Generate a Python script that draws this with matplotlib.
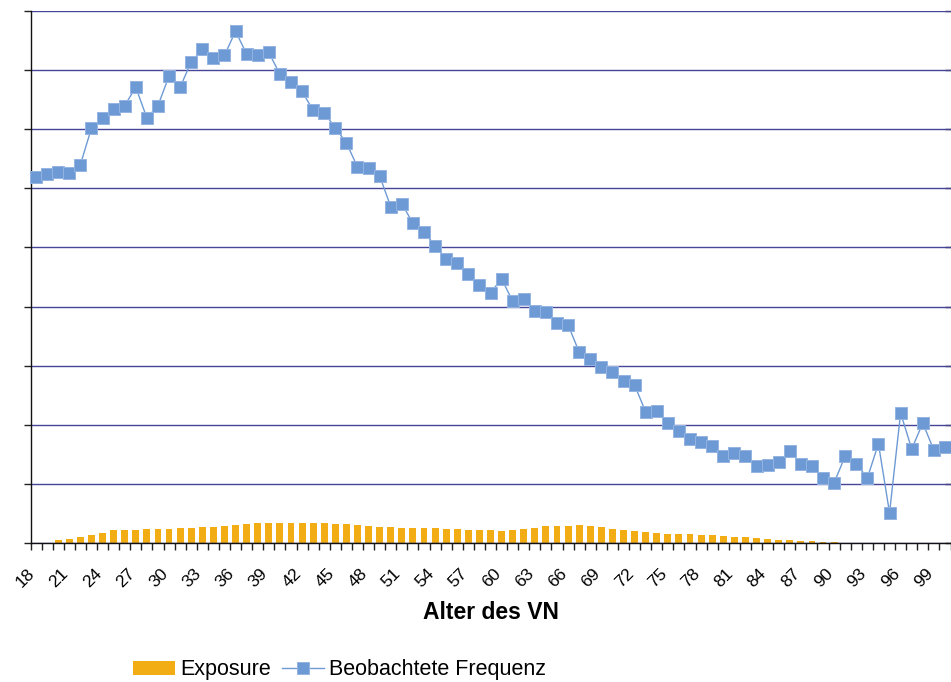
import matplotlib
matplotlib.use("Agg")
import matplotlib.pyplot as plt
from matplotlib.patches import Patch
from matplotlib.lines import Line2D

plt.rcParams['font.family'] = ['Liberation Sans', 'DejaVu Sans']

# ---- data ----
ages = list(range(18, 101))

frequency = [
    6.19, 6.24, 6.27, 6.26, 6.40, 7.02, 7.19, 7.35, 7.40, 7.71,
    7.19, 7.40, 7.90, 7.71, 8.14, 8.35, 8.21, 8.25, 8.66, 8.27,
    8.26, 8.30, 7.93, 7.80, 7.64, 7.32, 7.28, 7.02, 6.77, 6.36,
    6.35, 6.21, 5.69, 5.74, 5.41, 5.26, 5.03, 4.81, 4.74, 4.55,
    4.37, 4.23, 4.47, 4.09, 4.13, 3.93, 3.91, 3.72, 3.69, 3.23,
    3.11, 2.98, 2.89, 2.74, 2.67, 2.22, 2.23, 2.03, 1.90, 1.76,
    1.71, 1.64, 1.47, 1.52, 1.47, 1.30, 1.32, 1.37, 1.56, 1.34,
    1.30, 1.10, 1.02, 1.47, 1.34, 1.10, 1.68, 0.51, 2.20, 1.59,
    2.03, 1.57, 1.62,
]

exposure = [
    0, 0, 27, 43, 63, 83, 103, 127, 133, 133,
    143, 143, 143, 153, 153, 163, 163, 173, 183, 193,
    203, 203, 203, 203, 203, 203, 203, 193, 193, 183,
    173, 163, 163, 153, 153, 153, 153, 143, 143, 133,
    133, 133, 123, 133, 143, 153, 173, 173, 173, 183,
    173, 163, 143, 133, 123, 113, 103, 93, 93, 93,
    83, 83, 73, 63, 63, 53, 43, 33, 33, 23,
    23, 13, 13, 0, 0, 0, 0, 0, 0, 0,
    0, 0, 0,
]

label_ages = list(range(18, 101, 3))
tick_labels = [str(a) for a in label_ages]

series_names = ["Exposure", "Beobachtete Frequenz"]

# ---- styling ----
bar_color = '#F2AC14'
line_color = '#6D9AD5'
marker_edge = '#94B4E2'
grid_color = '#45459A'

W, H = 951, 682
fig = plt.figure(figsize=(W / 100, H / 100), dpi=100)
ax = fig.add_axes([30.5 / W, (H - 543) / H, 920 / W, 532 / H])
axb = ax.twinx()

# exposure bars (secondary scale)
axb.bar(ages, exposure, width=0.62, color=bar_color, zorder=2)
axb.set_ylim(0, 5320)
axb.set_yticks([i * 591.1 for i in range(10)])
axb.set_yticklabels([])
axb.tick_params(axis='y', direction='inout', length=8, width=1, color='#222222')
for s in axb.spines.values():
    s.set_visible(False)

# frequency line (primary scale)
ax.set_zorder(axb.get_zorder() + 1)
ax.patch.set_visible(False)
ax.plot(ages, frequency, color=line_color, lw=1.0, marker='s', markersize=9.2,
        markerfacecolor=line_color, markeredgecolor=marker_edge, markeredgewidth=0.7,
        zorder=3, clip_on=False)
ax.set_ylim(0, 9)
ax.set_yticks(range(10))
ax.set_yticklabels([])
ax.yaxis.grid(True, color=grid_color, lw=1.0)
ax.set_axisbelow(True)
ax.tick_params(axis='y', direction='out', length=5, width=1, color='#222222')

ax.set_xlim(17.5, 100.5)
ax.set_xticks([a - 0.5 for a in ages] + [100.5])
ax.set_xticklabels([])
ax.tick_params(axis='x', which='major', direction='out', length=5, width=1, color='#222222')
ax.set_xticks([a - 0.31 for a in label_ages], labels=tick_labels, minor=True)
ax.tick_params(axis='x', which='minor', length=0, pad=20, labelsize=12.5)
for lab in ax.get_xticklabels(minor=True):
    lab.set_rotation(45)
    lab.set_ha('right')
    lab.set_va('center')
    lab.set_rotation_mode('anchor')

for side in ['top', 'right']:
    ax.spines[side].set_visible(False)
ax.spines['left'].set_color('#111111')
ax.spines['bottom'].set_color('#111111')
ax.spines['left'].set_linewidth(1.0)
ax.spines['bottom'].set_linewidth(1.0)

fig.text(490.5 / W, 1 - 619 / H, "Alter des VN", ha='center', va='baseline',
         fontsize=16.5, fontweight='bold')

handles = [
    Patch(facecolor=bar_color, edgecolor='none'),
    Line2D([], [], color=line_color, lw=1.0, marker='s', markersize=9.2,
           markerfacecolor=line_color, markeredgecolor=marker_edge, markeredgewidth=0.7),
]
fig.legend(handles, series_names, loc='center left',
           bbox_to_anchor=(133 / W, 1 - 670 / H), ncol=2, frameon=False,
           borderpad=0, borderaxespad=0, handlelength=1.95, handleheight=0.6,
           handletextpad=0.25, columnspacing=0.5, fontsize=15.5)

fig.savefig("out.png", dpi=100)
